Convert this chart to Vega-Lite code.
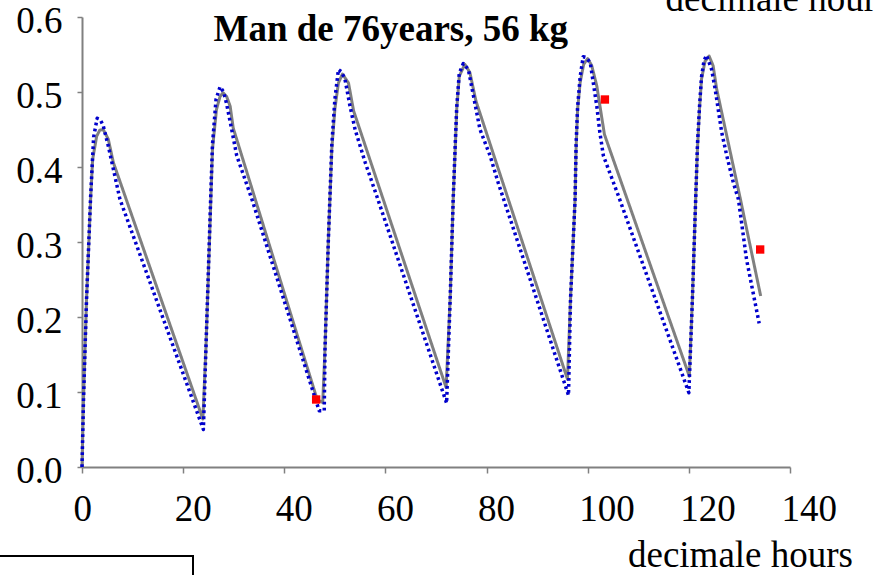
{
  "$schema": "https://vega.github.io/schema/vega-lite/v6.json",
  "width": 708,
  "height": 450,
  "autosize": {"type": "none"},
  "padding": {"left": 82, "top": 17, "right": 84, "bottom": 108},
  "background": "white",
  "config": {
    "view": {"stroke": null},
    "font": "Liberation Serif",
    "axis": {"labelFont": "Liberation Serif", "titleFont": "Liberation Serif", "grid": false}
  },
  "datasets": {
    "conc": [
      {"series": "Series1", "t": 0, "c": 0},
      {"series": "Series1", "t": 0.3, "c": 0.09},
      {"series": "Series1", "t": 0.6, "c": 0.157},
      {"series": "Series1", "t": 0.9, "c": 0.224},
      {"series": "Series1", "t": 1.7, "c": 0.357},
      {"series": "Series1", "t": 2.1, "c": 0.41},
      {"series": "Series1", "t": 2.9, "c": 0.441},
      {"series": "Series1", "t": 3.5, "c": 0.449},
      {"series": "Series1", "t": 4.2, "c": 0.45},
      {"series": "Series1", "t": 5.2, "c": 0.437},
      {"series": "Series1", "t": 6.2, "c": 0.406},
      {"series": "Series1", "t": 23.9, "c": 0.064},
      {"series": "Series1", "t": 24.5, "c": 0.157},
      {"series": "Series1", "t": 25.5, "c": 0.361},
      {"series": "Series1", "t": 25.8, "c": 0.424},
      {"series": "Series1", "t": 26.6, "c": 0.477},
      {"series": "Series1", "t": 27.3, "c": 0.494},
      {"series": "Series1", "t": 27.9, "c": 0.499},
      {"series": "Series1", "t": 28.6, "c": 0.494},
      {"series": "Series1", "t": 29.3, "c": 0.481},
      {"series": "Series1", "t": 29.9, "c": 0.452},
      {"series": "Series1", "t": 46.5, "c": 0.09},
      {"series": "Series1", "t": 47.6, "c": 0.086},
      {"series": "Series1", "t": 48.05, "c": 0.157},
      {"series": "Series1", "t": 48.7, "c": 0.3},
      {"series": "Series1", "t": 49.4, "c": 0.424},
      {"series": "Series1", "t": 50.0, "c": 0.477},
      {"series": "Series1", "t": 50.7, "c": 0.512},
      {"series": "Series1", "t": 51.5, "c": 0.524},
      {"series": "Series1", "t": 52.7, "c": 0.512},
      {"series": "Series1", "t": 53.7, "c": 0.475},
      {"series": "Series1", "t": 72.0, "c": 0.106},
      {"series": "Series1", "t": 72.8, "c": 0.224},
      {"series": "Series1", "t": 73.4, "c": 0.357},
      {"series": "Series1", "t": 73.8, "c": 0.424},
      {"series": "Series1", "t": 74.1, "c": 0.477},
      {"series": "Series1", "t": 74.6, "c": 0.521},
      {"series": "Series1", "t": 75.7, "c": 0.537},
      {"series": "Series1", "t": 76.7, "c": 0.526},
      {"series": "Series1", "t": 77.9, "c": 0.488},
      {"series": "Series1", "t": 96.0, "c": 0.117},
      {"series": "Series1", "t": 96.6, "c": 0.224},
      {"series": "Series1", "t": 97.5, "c": 0.357},
      {"series": "Series1", "t": 97.7, "c": 0.424},
      {"series": "Series1", "t": 98.0, "c": 0.477},
      {"series": "Series1", "t": 98.5, "c": 0.5125},
      {"series": "Series1", "t": 99.2, "c": 0.537},
      {"series": "Series1", "t": 100.0, "c": 0.5445},
      {"series": "Series1", "t": 100.8, "c": 0.535},
      {"series": "Series1", "t": 101.8, "c": 0.508},
      {"series": "Series1", "t": 103.3, "c": 0.4436},
      {"series": "Series1", "t": 120.1, "c": 0.121},
      {"series": "Series1", "t": 120.7, "c": 0.224},
      {"series": "Series1", "t": 121.35, "c": 0.357},
      {"series": "Series1", "t": 121.7, "c": 0.424},
      {"series": "Series1", "t": 122.1, "c": 0.477},
      {"series": "Series1", "t": 122.5, "c": 0.517},
      {"series": "Series1", "t": 123.2, "c": 0.541},
      {"series": "Series1", "t": 124.0, "c": 0.548},
      {"series": "Series1", "t": 124.8, "c": 0.535},
      {"series": "Series1", "t": 125.5, "c": 0.504},
      {"series": "Series1", "t": 130.2, "c": 0.357},
      {"series": "Series1", "t": 134.2, "c": 0.228},

      {"series": "Series2", "t": 0, "c": 0},
      {"series": "Series2", "t": 0.3, "c": 0.09},
      {"series": "Series2", "t": 0.9, "c": 0.224},
      {"series": "Series2", "t": 1.7, "c": 0.36},
      {"series": "Series2", "t": 2.3, "c": 0.44},
      {"series": "Series2", "t": 3.0, "c": 0.465},
      {"series": "Series2", "t": 3.7, "c": 0.462},
      {"series": "Series2", "t": 4.2, "c": 0.455},
      {"series": "Series2", "t": 5.2, "c": 0.428},
      {"series": "Series2", "t": 6.5, "c": 0.388},
      {"series": "Series2", "t": 7.5, "c": 0.357},
      {"series": "Series2", "t": 24.0, "c": 0.05},
      {"series": "Series2", "t": 24.5, "c": 0.157},
      {"series": "Series2", "t": 25.5, "c": 0.37},
      {"series": "Series2", "t": 25.8, "c": 0.43},
      {"series": "Series2", "t": 26.5, "c": 0.49},
      {"series": "Series2", "t": 27.3, "c": 0.507},
      {"series": "Series2", "t": 28.0, "c": 0.5},
      {"series": "Series2", "t": 28.6, "c": 0.484},
      {"series": "Series2", "t": 29.6, "c": 0.45},
      {"series": "Series2", "t": 30.6, "c": 0.415},
      {"series": "Series2", "t": 33.6, "c": 0.357},
      {"series": "Series2", "t": 46.9, "c": 0.075},
      {"series": "Series2", "t": 47.9, "c": 0.075},
      {"series": "Series2", "t": 48.05, "c": 0.157},
      {"series": "Series2", "t": 48.7, "c": 0.3},
      {"series": "Series2", "t": 49.4, "c": 0.43},
      {"series": "Series2", "t": 50.0, "c": 0.49},
      {"series": "Series2", "t": 50.7, "c": 0.53},
      {"series": "Series2", "t": 51.3, "c": 0.527},
      {"series": "Series2", "t": 52.0, "c": 0.517},
      {"series": "Series2", "t": 53.0, "c": 0.481},
      {"series": "Series2", "t": 54.0, "c": 0.45},
      {"series": "Series2", "t": 56.0, "c": 0.406},
      {"series": "Series2", "t": 58.3, "c": 0.361},
      {"series": "Series2", "t": 72.1, "c": 0.085},
      {"series": "Series2", "t": 72.8, "c": 0.224},
      {"series": "Series2", "t": 73.4, "c": 0.357},
      {"series": "Series2", "t": 73.8, "c": 0.43},
      {"series": "Series2", "t": 74.1, "c": 0.48},
      {"series": "Series2", "t": 74.6, "c": 0.525},
      {"series": "Series2", "t": 75.4, "c": 0.538},
      {"series": "Series2", "t": 76.4, "c": 0.53},
      {"series": "Series2", "t": 77.4, "c": 0.495},
      {"series": "Series2", "t": 78.7, "c": 0.45},
      {"series": "Series2", "t": 80.7, "c": 0.415},
      {"series": "Series2", "t": 82.3, "c": 0.379},
      {"series": "Series2", "t": 96.2, "c": 0.0956},
      {"series": "Series2", "t": 96.6, "c": 0.224},
      {"series": "Series2", "t": 97.5, "c": 0.357},
      {"series": "Series2", "t": 97.7, "c": 0.43},
      {"series": "Series2", "t": 98.0, "c": 0.48},
      {"series": "Series2", "t": 98.5, "c": 0.52},
      {"series": "Series2", "t": 99.1, "c": 0.547},
      {"series": "Series2", "t": 99.7, "c": 0.546},
      {"series": "Series2", "t": 100.5, "c": 0.539},
      {"series": "Series2", "t": 101.1, "c": 0.5125},
      {"series": "Series2", "t": 101.8, "c": 0.481},
      {"series": "Series2", "t": 102.4, "c": 0.446},
      {"series": "Series2", "t": 103.1, "c": 0.415},
      {"series": "Series2", "t": 105.1, "c": 0.379},
      {"series": "Series2", "t": 106.1, "c": 0.361},
      {"series": "Series2", "t": 120.0, "c": 0.099},
      {"series": "Series2", "t": 120.7, "c": 0.224},
      {"series": "Series2", "t": 121.35, "c": 0.357},
      {"series": "Series2", "t": 121.7, "c": 0.43},
      {"series": "Series2", "t": 122.1, "c": 0.48},
      {"series": "Series2", "t": 122.5, "c": 0.52},
      {"series": "Series2", "t": 123.0, "c": 0.542},
      {"series": "Series2", "t": 123.5, "c": 0.549},
      {"series": "Series2", "t": 124.5, "c": 0.53},
      {"series": "Series2", "t": 125.2, "c": 0.504},
      {"series": "Series2", "t": 125.8, "c": 0.477},
      {"series": "Series2", "t": 126.5, "c": 0.446},
      {"series": "Series2", "t": 127.5, "c": 0.415},
      {"series": "Series2", "t": 128.8, "c": 0.379},
      {"series": "Series2", "t": 129.8, "c": 0.357},
      {"series": "Series2", "t": 131.4, "c": 0.277},
      {"series": "Series2", "t": 133.9, "c": 0.1916},

      {"series": "Series3", "t": 46.3, "c": 0.09},
      {"series": "Series3", "t": 103.4, "c": 0.49},
      {"series": "Series3", "t": 134.1, "c": 0.29}
    ]
  },
  "data": {"name": "conc"},
  "resolve": {"axis": {"x": "independent", "y": "independent"}},
  "layer": [
    {
      "transform": [{"filter": "datum.series !== 'Series3'"}],
      "mark": {"type": "line", "interpolate": "linear", "strokeCap": "butt", "strokeJoin": "round"},
      "encoding": {
        "x": {
          "field": "t", "type": "quantitative",
          "scale": {"domain": [0, 140], "nice": false, "zero": true},
          "axis": {
            "orient": "bottom",
            "values": [0, 20, 40, 60, 80, 100, 120, 140],
            "format": "d",
            "domainColor": "#808080", "domainWidth": 2,
            "tickColor": "#808080", "tickWidth": 1.5, "tickSize": 6,
            "labelFontSize": 37, "labelColor": "black",
            "labelAlign": "left", "labelOffset": -9, "labelBaseline": "top",
            "labelPadding": 18, "labelFlush": false, "labelOverlap": false,
            "title": "decimale hours",
            "titleFontSize": 37, "titleFontWeight": "normal", "titleColor": "black",
            "titleX": 545.5, "titleY": 99, "titleAlign": "left", "titleBaseline": "alphabetic"
          }
        },
        "y": {
          "field": "c", "type": "quantitative",
          "scale": {"domain": [0, 0.6], "nice": false},
          "axis": {
            "orient": "left",
            "values": [0, 0.1, 0.2, 0.3, 0.4, 0.5, 0.6],
            "format": ".1f",
            "domainColor": "#808080", "domainWidth": 2,
            "tickColor": "#808080", "tickWidth": 1.5, "tickSize": 5,
            "labelFontSize": 37, "labelColor": "black",
            "labelPadding": 15, "labelOffset": 4,
            "labelFlush": false, "labelOverlap": false,
            "title": null
          }
        },
        "color": {
          "field": "series", "type": "nominal",
          "scale": {"domain": ["Series1", "Series2"], "range": ["#808080", "#0000CC"]},
          "legend": {
            "orient": "none", "legendX": -90, "legendY": 539,
            "title": null, "strokeColor": "black",
            "padding": 86, "symbolType": "stroke", "symbolSize": 400,
            "symbolStrokeWidth": 3, "labelExpr": "''", "labelOffset": 0,
            "encode": {"legend": {"update": {"strokeWidth": {"value": 2}}}}
          }
        },
        "strokeDash": {
          "field": "series", "type": "nominal",
          "scale": {"domain": ["Series1", "Series2"], "range": [[1, 0], [2.8, 3.2]]},
          "legend": null
        },
        "strokeWidth": {
          "field": "series", "type": "nominal",
          "scale": {"domain": ["Series1", "Series2"], "range": [3, 3.5]},
          "legend": null
        }
      }
    },
    {
      "transform": [{"filter": "datum.series === 'Series3'"}],
      "mark": {"type": "point", "shape": "square", "filled": true, "size": 70, "color": "#FF0000", "opacity": 1},
      "encoding": {
        "x": {
          "field": "t", "type": "quantitative",
          "axis": {
            "orient": "top", "domain": false, "ticks": false, "labels": false,
            "title": "decimale hours",
            "titleFontSize": 37, "titleFontWeight": "normal", "titleColor": "black",
            "titleX": 583, "titleY": -7, "titleAlign": "left", "titleBaseline": "alphabetic"
          }
        },
        "y": {
          "field": "c", "type": "quantitative",
          "axis": {
            "orient": "right", "domain": false, "ticks": false, "labels": false,
            "title": "Man de 76years, 56 kg", "titleAngle": 0,
            "titleFontSize": 37, "titleFontWeight": "bold", "titleColor": "black",
            "titleX": -577, "titleY": 23, "titleAlign": "left", "titleBaseline": "alphabetic"
          }
        }
      }
    }
  ]
}
